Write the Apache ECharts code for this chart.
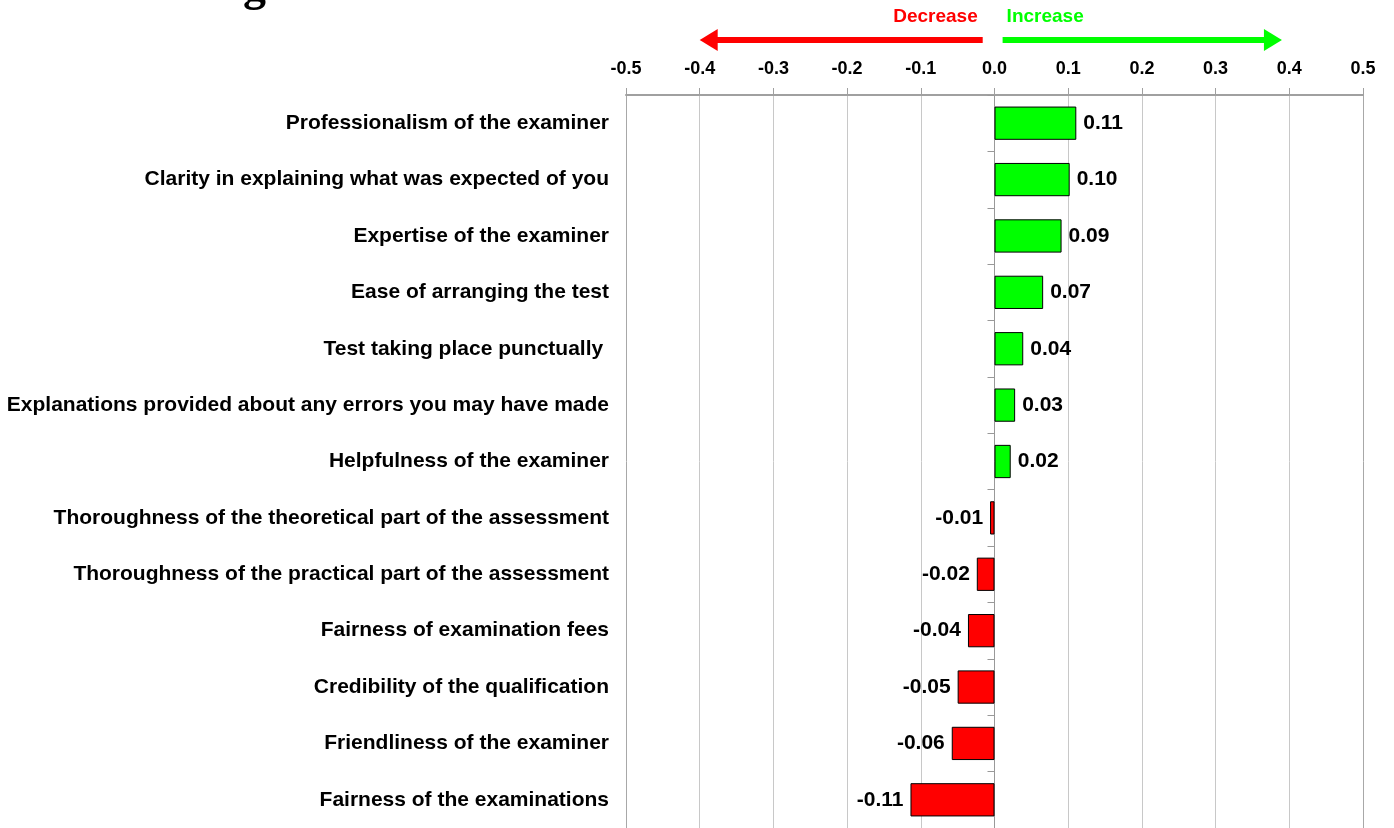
<!DOCTYPE html>
<html>
<head>
<meta charset="utf-8">
<script src="https://cdn.jsdelivr.net/npm/echarts@6/dist/echarts.min.js"></script>
<style>
  html, body { margin: 0; padding: 0; background: #fff; }
  #chart { width: 1394px; height: 828px; }
</style>
</head>
<body>
<div id="chart"></div>
<script>
const categories = [
  'Professionalism of the examiner',
  'Clarity in explaining what was expected of you',
  'Expertise of the examiner',
  'Ease of arranging the test',
  'Test taking place punctually ',
  'Explanations provided about any errors you may have made',
  'Helpfulness of the examiner',
  'Thoroughness of the theoretical part of the assessment',
  'Thoroughness of the practical part of the assessment',
  'Fairness of examination fees',
  'Credibility of the qualification',
  'Friendliness of the examiner',
  'Fairness of the examinations'
];
const changes = [0.111, 0.102, 0.091, 0.066, 0.039, 0.028, 0.022,
  -0.006, -0.024, -0.036, -0.050, -0.058, -0.114];
const tickValues = { min: -0.5, max: 0.5, step: 0.1 };

const FONT = 'Liberation Sans, Arial, sans-serif';

const barData = changes.map(v => ({
  value: v,
  itemStyle: { color: v >= 0 ? '#00ff00' : '#ff0000' },
  label: { position: v >= 0 ? 'right' : 'left' }
}));

// outer gridlines a bit darker than the inner ones
const gridColors = Array.from({ length: 11 }, (_, i) => (i === 0 || i === 10) ? '#a8a8a8' : '#c8c8c8');

const chart = echarts.init(document.getElementById('chart'));

chart.setOption({
  animation: false,
  grid: { left: 626, right: 31, top: 95, bottom: 0 },
  xAxis: {
    type: 'value',
    position: 'top',
    min: tickValues.min,
    max: tickValues.max,
    interval: tickValues.step,
    axisLine: { show: true, lineStyle: { color: '#a0a0a0', width: 2 } },
    axisTick: { show: true, length: 7, lineStyle: { color: '#a0a0a0' } },
    axisLabel: {
      margin: 17,
      color: '#000',
      fontFamily: FONT,
      fontWeight: 'bold',
      fontSize: 18,
      formatter: v => (Math.abs(v) < 1e-9 ? 0 : v).toFixed(1)
    },
    splitLine: { show: true, lineStyle: { color: gridColors, width: 1 } }
  },
  yAxis: [{
    type: 'category',
    inverse: true,
    data: categories,
    axisLine: { show: false, onZero: false },
    axisTick: { show: false },
    axisLabel: {
      margin: 17,
      color: '#000',
      fontFamily: FONT,
      fontWeight: 'bold',
      fontSize: 21
    }
  }, {
    type: 'category',
    inverse: true,
    data: categories,
    axisLine: { show: true, onZero: true, lineStyle: { color: '#999' } },
    axisTick: { show: true, inside: true, length: 7, lineStyle: { color: '#999' } },
    axisLabel: { show: false }
  }],
  series: [{
    type: 'bar',
    yAxisIndex: 0,
    data: barData,
    barCategoryGap: '41%',
    itemStyle: { borderColor: '#000', borderWidth: 1 },
    label: {
      show: true,
      distance: 7,
      color: '#000',
      fontFamily: FONT,
      fontWeight: 'bold',
      fontSize: 21,
      formatter: p => p.value.toFixed(2)
    }
  }]
});

// direction arrows above the axis, placed in data coordinates
const px = v => chart.convertToPixel({ xAxisIndex: 0 }, v);
const arrowY = 40;
const redTip = px(-0.40), redStart = px(-0.016);
const greenTip = px(0.39), greenStart = px(0.011);

chart.setOption({
  graphic: [
    {
      type: 'text', left: 243, top: -35,
      style: { text: 'g', fontFamily: 'Liberation Serif, Times New Roman, serif', fontSize: 46, fontWeight: 'bold', fill: '#000' }
    },
    {
      type: 'line',
      shape: { x1: redStart, y1: arrowY, x2: redTip + 14, y2: arrowY },
      style: { stroke: '#ff0000', lineWidth: 6 }
    },
    {
      type: 'polygon',
      shape: { points: [[redTip, arrowY], [redTip + 18, arrowY - 11], [redTip + 18, arrowY + 11]] },
      style: { fill: '#ff0000' }
    },
    {
      type: 'line',
      shape: { x1: greenStart, y1: arrowY, x2: greenTip - 14, y2: arrowY },
      style: { stroke: '#00ff00', lineWidth: 6 }
    },
    {
      type: 'polygon',
      shape: { points: [[greenTip, arrowY], [greenTip - 18, arrowY - 11], [greenTip - 18, arrowY + 11]] },
      style: { fill: '#00ff00' }
    },
    {
      type: 'text', x: redStart - 5, y: 17,
      style: { text: 'Decrease', fill: '#ff0000', fontFamily: FONT, fontWeight: 'bold', fontSize: 19, align: 'right', verticalAlign: 'middle' }
    },
    {
      type: 'text', x: greenStart + 4, y: 17,
      style: { text: 'Increase', fill: '#00ff00', fontFamily: FONT, fontWeight: 'bold', fontSize: 19, align: 'left', verticalAlign: 'middle' }
    }
  ]
});
</script>
</body>
</html>
